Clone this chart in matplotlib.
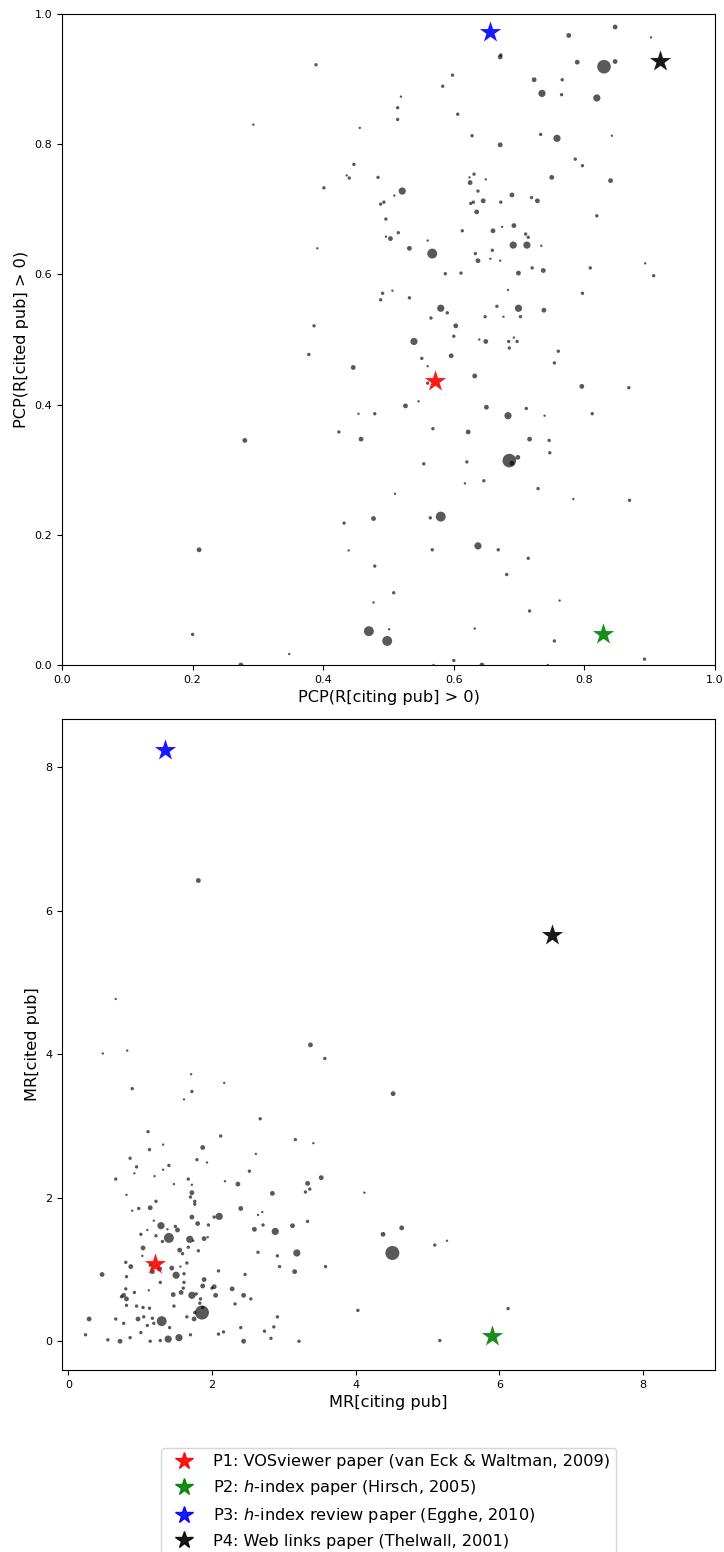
import numpy as np
import matplotlib
matplotlib.use("Agg")
import matplotlib.pyplot as plt
from matplotlib.lines import Line2D

# top panel: PCP of citing pub vs PCP of cited pub
pcp_citing = [
    0.389, 0.598, 0.583, 0.519, 0.514, 0.514, 0.456, 0.606, 0.671, 0.672,
    0.628, 0.671, 0.723, 0.735, 0.766, 0.765, 0.776, 0.789, 0.830, 0.847,
    0.847, 0.819, 0.902, 0.733, 0.758, 0.842, 0.786, 0.797, 0.750, 0.840,
    0.447, 0.436, 0.440, 0.484, 0.401, 0.521, 0.509, 0.488, 0.493, 0.496,
    0.496, 0.503, 0.515, 0.391, 0.532, 0.560, 0.567, 0.624, 0.631, 0.625,
    0.649, 0.637, 0.626, 0.630, 0.645, 0.672, 0.689, 0.719, 0.728, 0.635,
    0.819, 0.613, 0.660, 0.674, 0.692, 0.710, 0.714, 0.691, 0.712, 0.734,
    0.633, 0.659, 0.637, 0.656, 0.671, 0.587, 0.611, 0.699, 0.720, 0.737,
    0.809, 0.893, 0.906, 0.683, 0.491, 0.506, 0.488, 0.532, 0.797, 0.580,
    0.590, 0.666, 0.699, 0.738, 0.565, 0.648, 0.676, 0.702, 0.386, 0.603,
    0.600, 0.539, 0.639, 0.649, 0.684, 0.692, 0.697, 0.685, 0.293, 0.280,
    0.378, 0.446, 0.551, 0.560, 0.596, 0.760, 0.754, 0.632, 0.560, 0.796,
    0.868, 0.526, 0.546, 0.454, 0.479, 0.650, 0.683, 0.711, 0.739, 0.812,
    0.424, 0.458, 0.568, 0.622, 0.716, 0.746, 0.747, 0.685, 0.698, 0.689,
    0.554, 0.620, 0.617, 0.646, 0.510, 0.729, 0.783, 0.869, 0.432, 0.477,
    0.564, 0.580, 0.210, 0.439, 0.567, 0.637, 0.668, 0.714, 0.479, 0.681,
    0.508, 0.762, 0.477, 0.716, 0.470, 0.501, 0.632, 0.498, 0.754, 0.200,
    0.348, 0.274, 0.600, 0.569, 0.643, 0.744, 0.892,
]
pcp_cited = [
    0.922, 0.906, 0.889, 0.873, 0.856, 0.838, 0.825, 0.846, 0.934, 0.937,
    0.813, 0.799, 0.899, 0.878, 0.899, 0.876, 0.967, 0.926, 0.919, 0.927,
    0.980, 0.871, 0.964, 0.815, 0.809, 0.813, 0.777, 0.767, 0.749, 0.744,
    0.769, 0.752, 0.748, 0.749, 0.733, 0.728, 0.721, 0.708, 0.711, 0.685,
    0.658, 0.655, 0.664, 0.640, 0.640, 0.652, 0.632, 0.749, 0.754, 0.741,
    0.746, 0.728, 0.709, 0.711, 0.713, 0.711, 0.722, 0.718, 0.713, 0.696,
    0.690, 0.667, 0.667, 0.673, 0.675, 0.662, 0.657, 0.645, 0.645, 0.644,
    0.632, 0.637, 0.621, 0.624, 0.621, 0.601, 0.602, 0.602, 0.610, 0.606,
    0.610, 0.617, 0.598, 0.576, 0.571, 0.575, 0.561, 0.564, 0.571, 0.548,
    0.541, 0.551, 0.548, 0.545, 0.533, 0.535, 0.535, 0.535, 0.521, 0.521,
    0.505, 0.497, 0.500, 0.497, 0.497, 0.503, 0.497, 0.487, 0.830, 0.345,
    0.477, 0.457, 0.471, 0.459, 0.475, 0.482, 0.464, 0.444, 0.433, 0.428,
    0.426, 0.398, 0.405, 0.386, 0.386, 0.396, 0.383, 0.394, 0.383, 0.386,
    0.358, 0.347, 0.363, 0.358, 0.347, 0.345, 0.326, 0.314, 0.319, 0.310,
    0.309, 0.312, 0.279, 0.283, 0.263, 0.271, 0.255, 0.253, 0.218, 0.225,
    0.226, 0.228, 0.177, 0.176, 0.177, 0.183, 0.177, 0.164, 0.152, 0.139,
    0.111, 0.099, 0.096, 0.083, 0.052, 0.055, 0.056, 0.037, 0.037, 0.047,
    0.017, 0.000, 0.007, 0.000, 0.000, 0.000, 0.009,
]
pcp_weight = [
    2, 2, 2, 1, 2, 2, 1, 2, 4, 2,
    2, 4, 4, 9, 2, 2, 4, 4, 32, 4,
    4, 9, 1, 2, 9, 1, 2, 2, 4, 4,
    2, 1, 2, 2, 2, 9, 1, 2, 2, 2,
    1, 4, 2, 1, 4, 1, 17, 1, 2, 4,
    1, 2, 2, 2, 4, 2, 4, 2, 4, 4,
    2, 2, 4, 1, 4, 2, 2, 9, 9, 1,
    2, 2, 4, 1, 1, 2, 2, 4, 2, 4,
    2, 1, 2, 1, 2, 1, 2, 2, 2, 9,
    2, 2, 9, 4, 2, 2, 1, 2, 2, 4,
    2, 9, 1, 4, 2, 1, 2, 2, 1, 4,
    2, 4, 2, 1, 4, 2, 2, 4, 2, 4,
    2, 4, 1, 1, 2, 4, 9, 2, 1, 2,
    2, 4, 2, 4, 4, 2, 2, 32, 4, 4,
    2, 2, 1, 2, 1, 2, 1, 2, 2, 4,
    2, 17, 4, 1, 2, 9, 2, 2, 2, 2,
    2, 1, 1, 2, 17, 1, 1, 17, 2, 2,
    1, 4, 2, 1, 4, 1, 2,
]

# bottom panel: MR of citing pub vs MR of cited pub
mr_citing = [
    1.81, 0.66, 0.48, 0.82, 3.37, 3.57, 1.71, 2.17, 0.89, 1.72,
    4.52, 1.61, 2.67, 1.11, 2.12, 3.16, 3.41, 1.32, 1.13, 1.87,
    0.86, 1.79, 1.93, 2.61, 0.95, 1.40, 0.92, 1.32, 1.20, 0.66,
    2.52, 1.67, 1.47, 2.18, 2.36, 1.72, 1.72, 1.70, 0.81, 1.76,
    1.76, 1.22, 1.14, 0.98, 0.89, 2.40, 2.10, 2.03, 1.72, 2.64,
    2.70, 1.19, 1.80, 1.95, 1.29, 1.49, 1.52, 1.38, 1.10, 2.59,
    2.71, 1.01, 1.22, 1.40, 1.69, 1.74, 1.89, 1.94, 1.31, 1.04,
    1.55, 1.67, 1.81, 1.59, 2.64, 1.03, 0.80, 0.87, 1.65, 1.56,
    1.44, 1.14, 1.17, 1.27, 0.47, 0.81, 1.50, 1.61, 2.09, 2.46,
    1.89, 1.28, 1.61, 1.87, 2.03, 2.00, 2.28, 0.80, 1.12, 1.60,
    0.92, 1.57, 0.77, 0.74, 0.81, 1.46, 1.72, 1.78, 2.05, 2.44,
    2.54, 1.84, 1.83, 2.32, 0.81, 0.95, 1.04, 1.13, 1.47, 1.87,
    1.86, 1.76, 1.65, 1.75, 0.29, 0.66, 0.97, 1.05, 1.17, 1.30,
    0.77, 1.10, 1.19, 1.41, 2.40, 2.16, 2.09, 1.01, 0.24, 1.70,
    0.55, 0.86, 0.72, 1.14, 1.28, 1.39, 1.54, 2.44, 3.33, 3.52,
    3.30, 3.36, 2.84, 4.12, 2.88, 3.12, 3.33, 4.64, 4.38, 5.10,
    5.27, 4.51, 2.91, 3.18, 2.94, 3.15, 3.58, 4.03, 2.91, 2.86,
    2.73, 2.82, 3.21, 5.17, 6.12,
]
mr_cited = [
    6.42, 4.77, 4.01, 4.05, 4.13, 3.94, 3.72, 3.60, 3.52, 3.48,
    3.45, 3.37, 3.10, 2.92, 2.86, 2.81, 2.76, 2.74, 2.67, 2.70,
    2.55, 2.53, 2.49, 2.61, 2.43, 2.45, 2.34, 2.39, 2.30, 2.26,
    2.37, 2.26, 2.19, 2.23, 2.19, 2.18, 2.07, 2.01, 2.04, 1.95,
    1.91, 1.95, 1.86, 1.85, 1.82, 1.85, 1.74, 1.73, 1.73, 1.76,
    1.80, 1.68, 1.64, 1.62, 1.61, 1.60, 1.55, 1.56, 1.55, 1.56,
    1.62, 1.49, 1.47, 1.44, 1.42, 1.40, 1.43, 1.45, 1.39, 1.30,
    1.27, 1.31, 1.26, 1.22, 1.24, 1.19, 1.10, 1.04, 1.09, 1.04,
    1.02, 1.06, 0.97, 1.01, 0.93, 0.90, 0.92, 0.94, 0.98, 0.93,
    0.86, 0.82, 0.82, 0.77, 0.76, 0.74, 0.73, 0.73, 0.71, 0.74,
    0.68, 0.68, 0.64, 0.62, 0.59, 0.65, 0.64, 0.66, 0.64, 0.64,
    0.59, 0.59, 0.53, 0.52, 0.50, 0.49, 0.47, 0.46, 0.49, 0.47,
    0.40, 0.40, 0.34, 0.31, 0.31, 0.31, 0.31, 0.34, 0.32, 0.28,
    0.25, 0.22, 0.25, 0.19, 0.19, 0.13, 0.10, 0.12, 0.09, 0.09,
    0.02, 0.05, 0.00, 0.00, 0.01, 0.03, 0.05, 0.00, 2.20, 2.28,
    2.08, 2.12, 2.06, 2.07, 1.53, 1.61, 1.67, 1.58, 1.49, 1.34,
    1.40, 1.23, 1.19, 1.23, 1.04, 0.97, 1.04, 0.43, 0.34, 0.20,
    0.14, 0.04, 0.00, 0.01, 0.455,
]
mr_weight = [
    4, 1, 1, 1, 4, 2, 1, 1, 2, 2,
    4, 1, 2, 2, 2, 2, 1, 1, 2, 4,
    2, 2, 1, 1, 2, 2, 1, 1, 1, 2,
    2, 2, 1, 1, 4, 1, 4, 2, 1, 2,
    2, 2, 4, 2, 1, 4, 9, 2, 4, 1,
    1, 1, 4, 2, 9, 2, 4, 1, 1, 4,
    2, 2, 2, 17, 9, 1, 4, 1, 2, 4,
    4, 2, 2, 2, 2, 1, 2, 4, 2, 1,
    4, 2, 4, 4, 4, 2, 9, 2, 2, 2,
    4, 2, 2, 4, 4, 2, 4, 2, 1, 2,
    2, 4, 4, 2, 4, 4, 9, 2, 4, 4,
    2, 2, 2, 2, 2, 2, 2, 2, 2, 2,
    34, 2, 2, 4, 4, 2, 4, 2, 2, 17,
    2, 2, 2, 2, 2, 2, 2, 2, 2, 2,
    2, 2, 4, 2, 2, 9, 9, 4, 4, 4,
    2, 2, 4, 1, 9, 4, 2, 4, 4, 2,
    1, 34, 2, 9, 2, 4, 2, 2, 2, 2,
    2, 2, 2, 2, 2,
]

# highlighted papers
paper_labels = [
    "P1: VOSviewer paper (van Eck & Waltman, 2009)",
    "P2: $h$-index paper (Hirsch, 2005)",
    "P3: $h$-index review paper (Egghe, 2010)",
    "P4: Web links paper (Thelwall, 2001)",
]
paper_colors = ["red", "green", "blue", "black"]
paper_pcp_citing = [0.571, 0.829, 0.656, 0.916]
paper_pcp_cited = [0.436, 0.048, 0.973, 0.927]
paper_mr_citing = [1.20, 5.89, 1.35, 6.73]
paper_mr_cited = [1.08, 0.075, 8.24, 5.66]

fig = plt.figure(figsize=(7.24, 15.52), dpi=100)

ax1 = fig.add_axes([0.0856, 0.5715, 0.902, 0.4195])
ax1.scatter(pcp_citing, pcp_cited, s=np.array(pcp_weight) * 3, c="k",
            alpha=0.65, linewidths=0)
for i in range(4):
    ax1.scatter(paper_pcp_citing[i], paper_pcp_cited[i], marker="*", s=260,
                c=paper_colors[i], alpha=0.9, linewidths=0, zorder=3)
ax1.set_xlim(0, 1)
ax1.set_ylim(0, 1)
ax1.set_xlabel("PCP(R[citing pub] > 0)", fontsize=11.6)
ax1.set_ylabel("PCP(R[cited pub] > 0)", fontsize=11.6)
ax1.tick_params(labelsize=8)

ax2 = fig.add_axes([0.0856, 0.1173, 0.902, 0.4194])
ax2.scatter(mr_citing, mr_cited, s=np.array(mr_weight) * 3, c="k",
            alpha=0.65, linewidths=0)
for i in range(4):
    ax2.scatter(paper_mr_citing[i], paper_mr_cited[i], marker="*", s=260,
                c=paper_colors[i], alpha=0.9, linewidths=0, zorder=3)
ax2.set_xlim(-0.088, 9.0)
ax2.set_ylim(-0.40, 8.67)
ax2.set_xticks([0, 2, 4, 6, 8])
ax2.set_yticks([0, 2, 4, 6, 8])
ax2.set_xlabel("MR[citing pub]", fontsize=11.6)
ax2.set_ylabel("MR[cited pub]", fontsize=11.6)
ax2.tick_params(labelsize=8)

handles = [Line2D([], [], marker="*", linestyle="None", color=c,
                  markersize=13, alpha=0.9) for c in paper_colors]
fig.legend(handles, paper_labels, loc="upper center",
           bbox_to_anchor=(0.537, 0.0722), fontsize=11.6, labelspacing=0.55)

fig.savefig("out.png", dpi=100)
